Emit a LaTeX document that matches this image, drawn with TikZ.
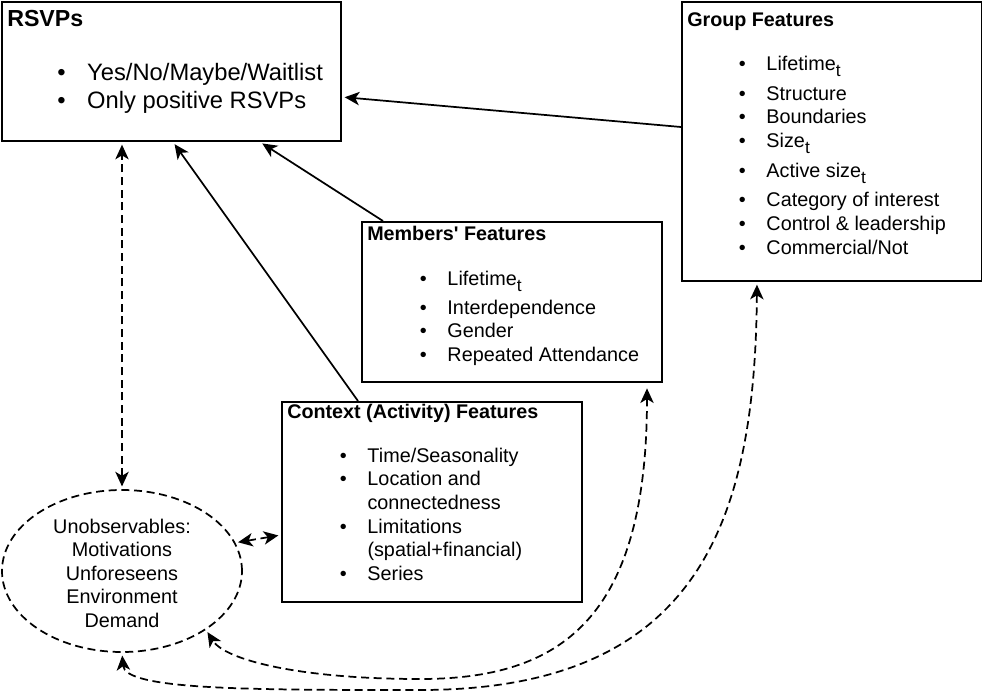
\documentclass[tikz,border=0pt]{standalone}
\usepackage{fontspec}
\setmainfont{Liberation Sans}
\usetikzlibrary{arrows.meta,shapes.geometric}
\newcommand\txt{\fontsize{14.85}{17.8}\selectfont}
\newcommand\bigtxt{\fontsize{17.8}{21.3}\selectfont}
\newcommand\ttlfont{\fontsize{14.8}{17.5}\selectfont\bfseries}
\newcommand\itm[1][20.8pt]{\makebox[#1][l]{\textbullet}}
\newcommand\sub[1]{\raisebox{-4.5pt}{\fontsize{13}{13}\selectfont #1}}
\tikzset{
	box/.style={draw,line width=1.5pt,anchor=north west,inner sep=0pt},
	ttl/.style={anchor=base west,inner sep=0pt,font=\ttlfont},
	lst/.style={anchor=base west,inner sep=0pt,font=\txt},
	Arr/.tip={Stealth[length=11pt,width=10pt,inset=3pt]},
	conn/.style={line width=1.3pt,-Arr,shorten >=2pt},
	dconn/.style={line width=1.3pt,dash pattern=on 6pt off 3.5pt,Arr-Arr,shorten >=2pt,shorten <=2pt}
}
\begin{document}
\begin{tikzpicture}[x=0.75pt,y=-0.75pt]
	\useasboundingbox (0,0) rectangle (982,692);
	\node[box,minimum width=254.25pt,minimum height=104.25pt] (rsvp) at (1,1) {};
	\node[box,minimum width=225pt,minimum height=209.25pt] (group) at (681,1) {};
	\node[box,minimum width=225pt,minimum height=120pt] (members) at (361,221) {};
	\node[box,minimum width=225pt,minimum height=150pt] (context) at (281,401) {};
	\node[draw,ellipse,inner sep=0pt,minimum width=180pt,minimum height=121.5pt,line width=1.3pt,dash pattern=on 6pt off 3.5pt] (unobs) at (122,571) {};

	\node[ttl,font=\fontsize{17.4}{20}\selectfont\bfseries] (rsvptitle) at (7,27) {RSVPs};
	\node[lst,font=\bigtxt] (rsvplist) at (57,80) {\begin{tabular}[t]{@{}l@{}}
		\itm[22.5pt]Yes/No/Maybe/Waitlist\\
		\itm[22.5pt]Only positive RSVPs
	\end{tabular}};

	\node[ttl] (grouptitle) at (687,27) {Group Features};
	\node[lst] (grouplist) at (738.5,71) {\begin{tabular}[t]{@{}l@{}}
		\itm Lifetime\sub{t}\\[4pt]
		\itm Structure\\
		\itm Boundaries\\
		\itm Size\sub{t}\\[5pt]
		\itm Active size\sub{t}\\[4pt]
		\itm Category of interest\\
		\itm Control \& leadership\\
		\itm Commercial/Not
	\end{tabular}};

	\node[ttl] (memberstitle) at (367,240) {Members\textquotesingle{} Features};
	\node[lst] (memberslist) at (419.5,285) {\begin{tabular}[t]{@{}l@{}}
		\itm Lifetime\sub{t}\\[4pt]
		\itm Interdependence\\
		\itm Gender\\
		\itm Repeated Attendance
	\end{tabular}};

	\node[ttl] (contexttitle) at (287,418) {Context (Activity) Features};
	\node[lst] (contextlist) at (339.5,462) {\begin{tabular}[t]{@{}l@{}}
		\itm Time/Seasonality\\
		\itm Location and\\
		\phantom{\itm}connectedness\\
		\itm Limitations\\
		\phantom{\itm}(spatial+financial)\\
		\itm Series
	\end{tabular}};

	\node[font=\fontsize{14.85}{17.6}\selectfont,align=center,inner sep=0pt,yshift=-1.5pt] (unobstext) at (unobs.center) {Unobservables:\\Motivations\\Unforeseens\\Environment\\Demand};

	\draw[conn] (group.west |- 0,127) -- (rsvp.east |- 0,97);
	\draw[conn] (383,0 |- members.north) -- (260,0 |- rsvp.south);
	\draw[conn] (358,0 |- context.north) -- (173,0 |- rsvp.south);
	\draw[dconn] (unobs.north) -- (unobs.north |- rsvp.south);
	\draw[dconn] (unobs.14) -- (context.west |- 0,535);
	\draw[dconn,shorten <=4pt] (647,0 |- members.south) .. controls (647,620) and (560,679) .. (420,679) .. controls (300,679) and (225,660) .. (unobs.-35);
	\draw[dconn] (757,0 |- group.south) .. controls (755,520) and (700,690) .. (420,690) .. controls (250,690) and (125,690) .. (unobs.south);
\end{tikzpicture}
\end{document}
